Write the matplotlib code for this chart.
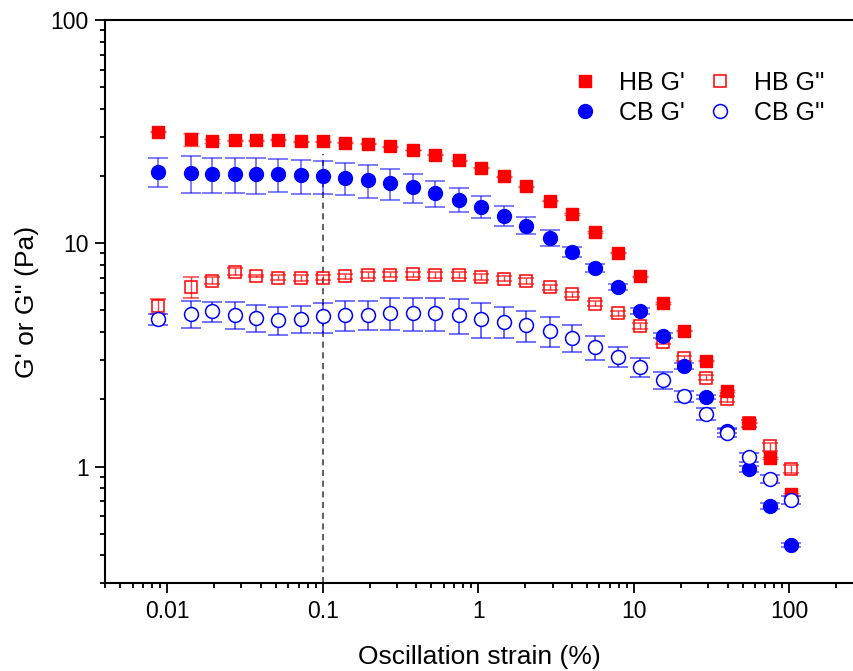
import numpy as np
import matplotlib
matplotlib.use("Agg")
import matplotlib.pyplot as plt

# strain values (%)
strain = [0.00875, 0.0143, 0.0195, 0.0271, 0.0375, 0.0519, 0.0726, 0.1, 0.140,
          0.195, 0.272, 0.38, 0.53, 0.747, 1.04, 1.46, 2.02, 2.89, 4.0, 5.59,
          7.85, 10.98, 15.3, 21.1, 29.1, 39.9, 54.6, 74.9, 103]

# moduli (Pa)
hb_g1 = [31.6, 29.3, 28.8, 28.9, 28.9, 29.1, 28.6, 28.6, 28.2, 27.9, 27.2, 26.2,
         24.9, 23.5, 21.8, 20.0, 18.0, 15.5, 13.5, 11.2, 9.06, 7.10, 5.42, 4.06,
         2.98, 2.18, 1.57, 1.09, 0.75]
hb_g1_err = [0.2, 2.0, 0.6, 0.1, 0.1, 0.2, 0.1, 0.1, 0.1, 0.1, 0.1, 0.1,
             0.1, 0.1, 0.1, 0.1, 0.1, 0.1, 0.1, 0.1, 0.05, 0.05, 0.05, 0.03,
             0.02, 0.02, 0.01, 0.01, 0.01]

hb_g2 = [5.23, 6.35, 6.79, 7.47, 7.14, 7.02, 6.98, 7.02, 7.12, 7.20, 7.24, 7.27,
         7.20, 7.20, 7.07, 6.95, 6.79, 6.34, 5.91, 5.37, 4.86, 4.27, 3.63, 3.06,
         2.50, 2.00, 1.56, 1.23, 0.977]
hb_g2_err = [0.4, 0.68, 0.25, 0.25, 0.1, 0.2, 0.2, 0.2, 0.2, 0.2, 0.2, 0.2,
             0.2, 0.2, 0.2, 0.2, 0.2, 0.18, 0.15, 0.15, 0.13, 0.12, 0.1, 0.08,
             0.07, 0.06, 0.05, 0.05, 0.04]

cb_g1 = [20.9, 20.7, 20.5, 20.4, 20.4, 20.4, 20.2, 20.0, 19.7, 19.2, 18.6, 17.8,
         16.8, 15.7, 14.6, 13.3, 12.0, 10.6, 9.16, 7.77, 6.35, 4.97, 3.86, 2.82,
         2.05, 1.45, 0.973, 0.667, 0.445]
cb_g1_err = [3.1, 3.9, 3.7, 3.6, 3.7, 3.5, 3.5, 3.4, 3.3, 3.2, 3.0, 2.7,
             2.2, 1.95, 1.6, 1.35, 1.05, 0.85, 0.45, 0.3, 0.2, 0.15, 0.1, 0.08,
             0.05, 0.04, 0.03, 0.02, 0.01]

cb_g2 = [4.57, 4.83, 4.95, 4.78, 4.65, 4.54, 4.60, 4.70, 4.76, 4.79, 4.89, 4.88,
         4.86, 4.78, 4.59, 4.46, 4.31, 4.05, 3.78, 3.42, 3.11, 2.79, 2.44, 2.06,
         1.72, 1.41, 1.10, 0.881, 0.707]
cb_g2_err = [0.25, 0.67, 0.53, 0.67, 0.63, 0.65, 0.65, 0.72, 0.73, 0.70, 0.82, 0.82,
             0.80, 0.87, 0.83, 0.70, 0.68, 0.62, 0.53, 0.42, 0.33, 0.26, 0.21, 0.12,
             0.10, 0.06, 0.05, 0.04, 0.03]

plt.rcParams['font.family'] = ['Liberation Sans', 'DejaVu Sans']

fig = plt.figure(figsize=(8.54, 6.71), dpi=100)
ax = fig.add_axes([0.1233, 0.1307, 0.8767, 0.8395])

red = '#ff0000'
blue = '#0000ff'

# dashed guide at 0.1 %
ax.plot([0.1, 0.1], [0.3, 25], ls=(0, (4, 3)), color='#333333', lw=1.1, zorder=1)

ax.errorbar(strain, hb_g1, yerr=hb_g1_err, fmt='s', ms=9, color=red, mec=red,
            ecolor=(1, 0, 0, 0.6), elinewidth=1.0, capsize=6, capthick=1.0,
            label="HB G'", zorder=3)
ax.errorbar(strain, hb_g2, yerr=hb_g2_err, fmt='s', ms=9, mfc='none', mec=red,
            mew=1.1, ecolor=(1, 0, 0, 0.75), elinewidth=1.0, capsize=6,
            capthick=1.0, label="HB G''", zorder=4)
ax.errorbar(strain, cb_g1, yerr=cb_g1_err, fmt='o', ms=10, color=blue, mec=blue,
            ecolor=(0, 0, 1, 0.6), elinewidth=1.2, capsize=7, capthick=1.2,
            label="CB G'", zorder=5)
ax.errorbar(strain, cb_g2, yerr=cb_g2_err, fmt='o', ms=10, mfc='white', mec=blue,
            mew=1.1, ecolor=(0, 0, 1, 0.7), elinewidth=1.2, capsize=7,
            capthick=1.2, label="CB G''", zorder=6)

ax.set_xscale('log')
ax.set_yscale('log')
ax.set_xlim(0.004, 260)
ax.set_ylim(0.3, 100)

ax.set_xticks([0.01, 0.1, 1, 10, 100])
ax.set_xticklabels(['0.01', '0.1', '1', '10', '100'])
ax.set_yticks([1, 10, 100])
ax.set_yticklabels(['1', '10', '100'])

ax.tick_params(which='major', direction='out', length=7, width=1.3,
               labelsize=16.5, top=False, right=False, pad=5)
ax.tick_params(which='minor', direction='out', length=3.6, width=1.3,
               top=False, right=False)

for s in ['left', 'bottom', 'top']:
    ax.spines[s].set_linewidth(1.5)
ax.spines['right'].set_visible(False)

ax.set_xlabel('Oscillation strain (%)', fontsize=19, labelpad=16)
ax.set_ylabel("G' or G'' (Pa)", fontsize=19, labelpad=8)

h, l = ax.get_legend_handles_labels()
order = [0, 2, 1, 3]
ax.legend([h[i][0] for i in order], [l[i] for i in order], ncol=2, frameon=False,
          fontsize=18, loc='upper right', bbox_to_anchor=(0.99, 0.95),
          handletextpad=0.75, columnspacing=0.8, labelspacing=0.25,
          handlelength=1.2)

fig.savefig('out.png', dpi=100)
